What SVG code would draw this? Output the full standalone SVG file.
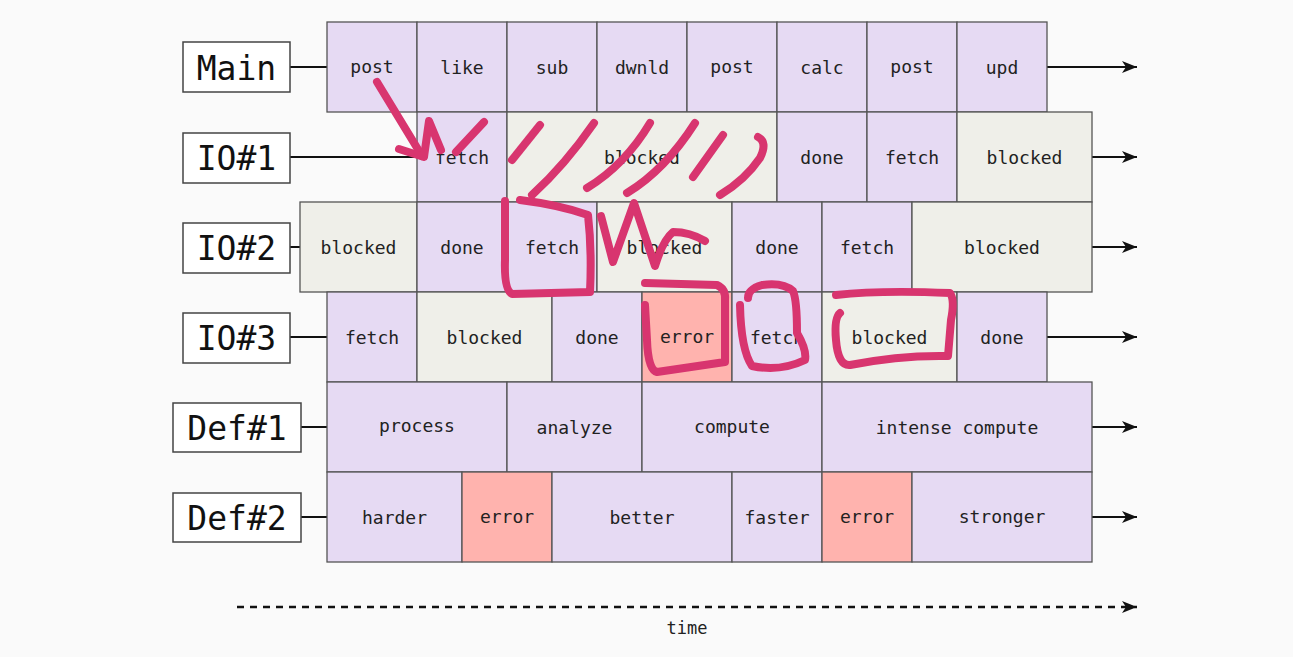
<svg xmlns="http://www.w3.org/2000/svg" width="1293" height="657" viewBox="0 0 1293 657">
<style>
.bg{fill:#fafafa}
.lbl rect{fill:#ffffff;stroke:#444;stroke-width:1.5}
.lbl text{font-family:"DejaVu Sans Mono","Liberation Mono",monospace;font-size:33px;fill:#111;text-anchor:middle;dominant-baseline:central}
.c rect{stroke:#555;stroke-width:1.3}
.c text{font-family:"DejaVu Sans Mono","Liberation Mono",monospace;font-size:18px;fill:#222;text-anchor:middle;dominant-baseline:central}
.p rect{fill:#e6daf3}
.g rect{fill:#efefe9}
.r rect{fill:#ffb3ae}
.ln{stroke:#111;stroke-width:2;fill:none}
.arr{marker-end:url(#ah)}
.dash{stroke:#111;stroke-width:2.5;stroke-dasharray:7 6;fill:none}
.ink{stroke:#d8356f;stroke-width:8;fill:none;stroke-linecap:round;stroke-linejoin:round}
.time{font-family:"DejaVu Sans Mono","Liberation Mono",monospace;font-size:17px;fill:#222;text-anchor:middle}
</style>
<defs>
<marker id="ah" markerWidth="16" markerHeight="14" refX="15" refY="7" orient="auto" markerUnits="userSpaceOnUse">
<path d="M0,1 L15,7 L0,13 L4,7 Z" fill="#111"/>
</marker>
</defs>
<rect class="bg" x="0" y="0" width="1293" height="657"/>

<g id="connectors">
<line class="ln" x1="290" y1="67" x2="327" y2="67"/>
<line class="ln" x1="290" y1="157" x2="417" y2="157"/>
<line class="ln" x1="290" y1="247" x2="300" y2="247"/>
<line class="ln" x1="290" y1="337" x2="327" y2="337"/>
<line class="ln" x1="301" y1="427" x2="327" y2="427"/>
<line class="ln" x1="301" y1="517" x2="327" y2="517"/>
<line class="ln arr" x1="1047" y1="67" x2="1137" y2="67"/>
<line class="ln arr" x1="1092" y1="157" x2="1137" y2="157"/>
<line class="ln arr" x1="1092" y1="247" x2="1137" y2="247"/>
<line class="ln arr" x1="1047" y1="337" x2="1137" y2="337"/>
<line class="ln arr" x1="1092" y1="427" x2="1137" y2="427"/>
<line class="ln arr" x1="1092" y1="517" x2="1137" y2="517"/>
<line class="dash arr" x1="237" y1="607" x2="1137" y2="607"/>
</g>

<g id="label-main" class="lbl"><rect x="183" y="42" width="107" height="50"/><text x="236.5" y="68">Main</text></g>
<g id="label-io1" class="lbl"><rect x="183" y="133" width="107" height="50"/><text x="236.5" y="158">IO#1</text></g>
<g id="label-io2" class="lbl"><rect x="183" y="223" width="107" height="50"/><text x="236.5" y="248">IO#2</text></g>
<g id="label-io3" class="lbl"><rect x="183" y="313" width="107" height="50"/><text x="236.5" y="338">IO#3</text></g>
<g id="label-def1" class="lbl"><rect x="173" y="403" width="128" height="49"/><text x="237" y="428">Def#1</text></g>
<g id="label-def2" class="lbl"><rect x="173" y="493" width="128" height="49"/><text x="237" y="518">Def#2</text></g>

<g id="row-main">
<g id="main-1" class="c p"><rect x="327" y="22" width="90" height="90"/><text x="372" y="66">post</text></g>
<g id="main-2" class="c p"><rect x="417" y="22" width="90" height="90"/><text x="462" y="67">like</text></g>
<g id="main-3" class="c p"><rect x="507" y="22" width="90" height="90"/><text x="552" y="67">sub</text></g>
<g id="main-4" class="c p"><rect x="597" y="22" width="90" height="90"/><text x="642" y="67">dwnld</text></g>
<g id="main-5" class="c p"><rect x="687" y="22" width="90" height="90"/><text x="732" y="66">post</text></g>
<g id="main-6" class="c p"><rect x="777" y="22" width="90" height="90"/><text x="822" y="67">calc</text></g>
<g id="main-7" class="c p"><rect x="867" y="22" width="90" height="90"/><text x="912" y="66">post</text></g>
<g id="main-8" class="c p"><rect x="957" y="22" width="90" height="90"/><text x="1002" y="67">upd</text></g>
</g>

<g id="row-io1">
<g id="io1-1" class="c p"><rect x="417" y="112" width="90" height="90"/><text x="462" y="157">fetch</text></g>
<g id="io1-2" class="c g"><rect x="507" y="112" width="270" height="90"/><text x="642" y="157">blocked</text></g>
<g id="io1-3" class="c p"><rect x="777" y="112" width="90" height="90"/><text x="822" y="157">done</text></g>
<g id="io1-4" class="c p"><rect x="867" y="112" width="90" height="90"/><text x="912" y="157">fetch</text></g>
<g id="io1-5" class="c g"><rect x="957" y="112" width="135" height="90"/><text x="1024.5" y="157">blocked</text></g>
</g>

<g id="row-io2">
<g id="io2-1" class="c g"><rect x="300" y="202" width="117" height="90"/><text x="358.5" y="247">blocked</text></g>
<g id="io2-2" class="c p"><rect x="417" y="202" width="90" height="90"/><text x="462" y="247">done</text></g>
<g id="io2-3" class="c p"><rect x="507" y="202" width="90" height="90"/><text x="552" y="247">fetch</text></g>
<g id="io2-4" class="c g"><rect x="597" y="202" width="135" height="90"/><text x="664.5" y="247">blocked</text></g>
<g id="io2-5" class="c p"><rect x="732" y="202" width="90" height="90"/><text x="777" y="247">done</text></g>
<g id="io2-6" class="c p"><rect x="822" y="202" width="90" height="90"/><text x="867" y="247">fetch</text></g>
<g id="io2-7" class="c g"><rect x="912" y="202" width="180" height="90"/><text x="1002" y="247">blocked</text></g>
</g>

<g id="row-io3">
<g id="io3-1" class="c p"><rect x="327" y="292" width="90" height="90"/><text x="372" y="337">fetch</text></g>
<g id="io3-2" class="c g"><rect x="417" y="292" width="135" height="90"/><text x="484.5" y="337">blocked</text></g>
<g id="io3-3" class="c p"><rect x="552" y="292" width="90" height="90"/><text x="597" y="337">done</text></g>
<g id="io3-4" class="c r"><rect x="642" y="292" width="90" height="90"/><text x="687" y="336">error</text></g>
<g id="io3-5" class="c p"><rect x="732" y="292" width="90" height="90"/><text x="777" y="337">fetch</text></g>
<g id="io3-6" class="c g"><rect x="822" y="292" width="135" height="90"/><text x="889.5" y="337">blocked</text></g>
<g id="io3-7" class="c p"><rect x="957" y="292" width="90" height="90"/><text x="1002" y="337">done</text></g>
</g>

<g id="row-def1">
<g id="def1-1" class="c p"><rect x="327" y="382" width="180" height="90"/><text x="417" y="425">process</text></g>
<g id="def1-2" class="c p"><rect x="507" y="382" width="135" height="90"/><text x="574.5" y="427">analyze</text></g>
<g id="def1-3" class="c p"><rect x="642" y="382" width="180" height="90"/><text x="732" y="426">compute</text></g>
<g id="def1-4" class="c p"><rect x="822" y="382" width="270" height="90"/><text x="957" y="427">intense compute</text></g>
</g>

<g id="row-def2">
<g id="def2-1" class="c p"><rect x="327" y="472" width="135" height="90"/><text x="394.5" y="517">harder</text></g>
<g id="def2-2" class="c r"><rect x="462" y="472" width="90" height="90"/><text x="507" y="516">error</text></g>
<g id="def2-3" class="c p"><rect x="552" y="472" width="180" height="90"/><text x="642" y="517">better</text></g>
<g id="def2-4" class="c p"><rect x="732" y="472" width="90" height="90"/><text x="777" y="517">faster</text></g>
<g id="def2-5" class="c r"><rect x="822" y="472" width="90" height="90"/><text x="867" y="516">error</text></g>
<g id="def2-6" class="c p"><rect x="912" y="472" width="180" height="90"/><text x="1002" y="516">stronger</text></g>
</g>

<text class="time" x="687" y="634">time</text>

<g id="annotations">
<path class="ink" d="M377,82 Q400,120 422,156"/>
<path class="ink" d="M399,149 L424,157 L429,121 L441,150"/>
<path class="ink" d="M484,122 L456,152"/>
<path class="ink" d="M540,125 L512,160"/>
<path class="ink" d="M594,123 Q565,165 532,195"/>
<path class="ink" d="M650,123 Q625,165 587,188"/>
<path class="ink" d="M695,123 Q665,170 627,193"/>
<path class="ink" d="M723,135 L693,177"/>
<path class="ink" d="M758,137 Q768,142 760,158 Q745,180 720,195"/>
<path class="ink" d="M520,200 Q560,205 588,215 Q592,250 590,292 L512,294 Q504,290 505,260 L505,201"/>
<path class="ink" d="M601,216 L613,262 L634,203 L655,266 Q663,240 673,232 Q690,232 705,241"/>
<path class="ink" d="M645,283 L717,285 Q726,289 725,300 L725,362 L657,372 Q648,370 647,340 L645,305"/>
<path class="ink" d="M740,305 Q741,350 752,366 Q780,372 805,360 Q807,350 797,333 Q797,300 793,291 Q783,282 762,285 Q748,289 748,298"/>
<path class="ink" d="M836,295 Q880,290 950,293 Q955,300 951,320 L948,356 Q900,355 850,365 Q838,366 836,340 Q834,318 840,313"/>
</g>
</svg>
